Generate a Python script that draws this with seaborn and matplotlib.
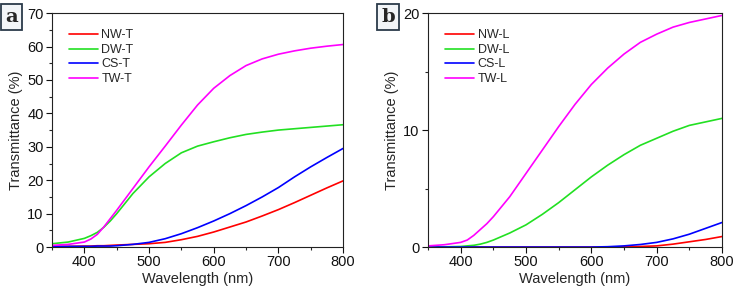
import seaborn as sns
import matplotlib.pyplot as plt
import pandas as pd
from matplotlib.ticker import MultipleLocator

# --- Data ---
wl = [350, 375, 400, 410, 420, 430, 440, 450, 475, 500, 525, 550, 575, 600,
      625, 650, 675, 700, 725, 750, 775, 800]

# panel a: total transmittance
nw_t = [0.2, 0.2, 0.3, 0.3, 0.4, 0.4, 0.5, 0.6, 0.8, 1.0, 1.4, 2.2, 3.2, 4.5,
        6.0, 7.5, 9.3, 11.2, 13.3, 15.5, 17.7, 19.8]
dw_t = [1.0, 1.5, 2.6, 3.4, 4.4, 5.9, 7.8, 10.0, 16.0, 21.0, 25.0, 28.2, 30.2, 31.5,
        32.7, 33.7, 34.4, 35.0, 35.4, 35.8, 36.2, 36.6]
cs_t = [0.2, 0.2, 0.2, 0.2, 0.3, 0.3, 0.3, 0.4, 0.8, 1.4, 2.5, 4.0, 5.8, 7.8,
        10.0, 12.4, 15.0, 17.8, 21.0, 24.0, 26.8, 29.5]
tw_t = [0.5, 0.8, 1.5, 2.4, 3.8, 6.0, 8.5, 11.0, 17.5, 24.0, 30.2, 36.5, 42.5, 47.5,
        51.3, 54.3, 56.3, 57.7, 58.7, 59.5, 60.1, 60.6]

# panel b: line transmittance
nw_l = [0.0, 0.0, 0.0, 0.0, 0.0, 0.0, 0.0, 0.0, 0.0, 0.0, 0.0, 0.0, 0.0, 0.0,
        0.0, 0.02, 0.05, 0.1, 0.25, 0.45, 0.65, 0.9]
dw_l = [0.0, 0.02, 0.05, 0.1, 0.15, 0.25, 0.4, 0.6, 1.2, 1.9, 2.8, 3.8, 4.9, 6.0,
        7.0, 7.9, 8.7, 9.3, 9.9, 10.4, 10.7, 11.0]
cs_l = [0.0, 0.0, 0.0, 0.0, 0.0, 0.0, 0.0, 0.0, 0.0, 0.0, 0.0, 0.0, 0.0, 0.0,
        0.03, 0.1, 0.22, 0.4, 0.7, 1.1, 1.6, 2.1]
tw_l = [0.1, 0.2, 0.4, 0.6, 1.0, 1.5, 2.0, 2.6, 4.3, 6.3, 8.3, 10.3, 12.2, 13.9,
        15.3, 16.5, 17.5, 18.2, 18.8, 19.2, 19.5, 19.8]

colors = ['#ff0000', '#22e022', '#0000ff', '#ff00ff']

sns.set_theme(style="ticks")
plt.rcParams['font.family'] = ['Liberation Sans', 'DejaVu Sans']


def long_df(series, names):
    rows = []
    for name, vals in zip(names, series):
        for x, y in zip(wl, vals):
            rows.append({'wl': x, 'T': y, 'sample': name})
    return pd.DataFrame(rows)


df_a = long_df([nw_t, dw_t, cs_t, tw_t], ['NW-T', 'DW-T', 'CS-T', 'TW-T'])
df_b = long_df([nw_l, dw_l, cs_l, tw_l], ['NW-L', 'DW-L', 'CS-L', 'TW-L'])

fig = plt.figure(figsize=(7.33, 2.91), dpi=100)
ax_a = fig.add_axes([0.071, 0.151, 0.397, 0.804])
ax_b = fig.add_axes([0.584, 0.151, 0.401, 0.804])

panels = [(ax_a, df_a, 70, 10, 'a', 5), (ax_b, df_b, 20, 10, 'b', 381)]
for ax, df, ymax, ystep, tag, tx in panels:
    sns.lineplot(data=df, x='wl', y='T', hue='sample', palette=colors, lw=1.2,
                 ax=ax, estimator=None)
    ax.set_xlim(350, 800)
    ax.set_ylim(0, ymax)
    ax.xaxis.set_major_locator(MultipleLocator(100))
    ax.xaxis.set_minor_locator(MultipleLocator(50))
    ax.yaxis.set_major_locator(MultipleLocator(ystep))
    ax.yaxis.set_minor_locator(MultipleLocator(ystep / 2))
    ax.tick_params(which='major', direction='out', length=4, width=0.8,
                   labelsize=10.5, colors='#111111', pad=2)
    ax.tick_params(which='minor', direction='out', length=2, width=0.8)
    for s in ax.spines.values():
        s.set_linewidth(0.8)
        s.set_color('#222222')
    ax.set_xlabel('Wavelength (nm)', fontsize=10.5, labelpad=2)
    ax.set_ylabel('Transmittance (%)', fontsize=10.5, labelpad=3)
    ax.legend(loc='upper left', bbox_to_anchor=(0.058, 0.93), frameon=False,
              fontsize=9, handlelength=2.3, handletextpad=0.3, labelspacing=0.2,
              borderaxespad=0, borderpad=0)
    fig.text(tx / 733, 1 - 8 / 291, tag, ha='left', va='top', fontsize=14,
             fontweight='bold', family='DejaVu Serif',
             bbox=dict(boxstyle='square,pad=0.22', facecolor='#f2f5f8',
                       edgecolor='#2b3a4a', lw=1.3))

fig.savefig('out.png', dpi=100)
